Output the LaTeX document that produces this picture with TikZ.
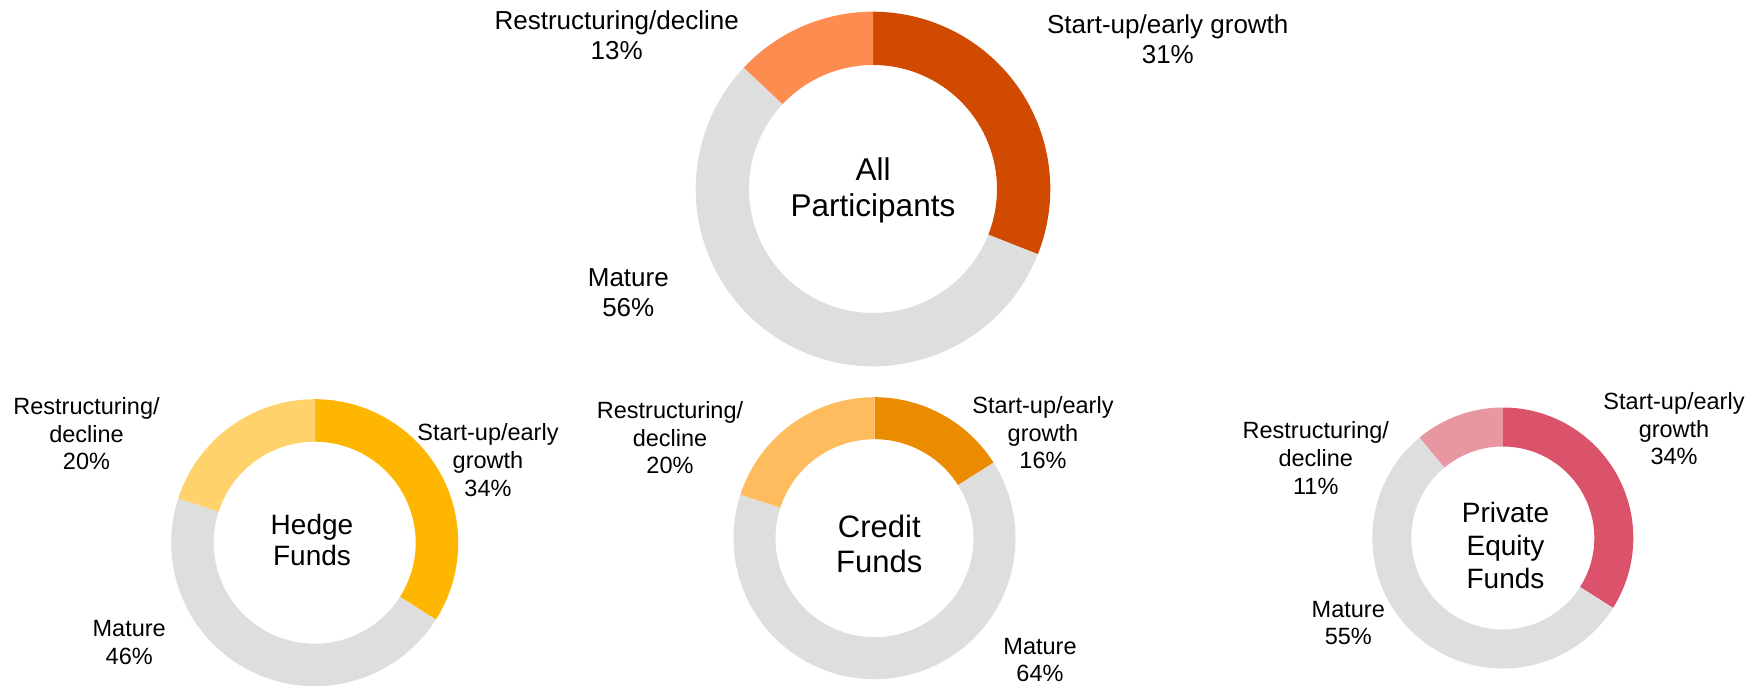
\documentclass[tikz,border=0pt]{standalone}
\usepackage{fontspec}
\setmainfont{Liberation Sans}
\usetikzlibrary{calc}
\definecolor{gr}{HTML}{DEDEDE}
\definecolor{aS}{HTML}{D04A02}
\definecolor{aR}{HTML}{FD8C50}
\definecolor{hS}{HTML}{FFB600}
\definecolor{hR}{HTML}{FFD26B}
\definecolor{cS}{HTML}{EB8C00}
\definecolor{cR}{HTML}{FFBC5E}
\definecolor{pS}{HTML}{DB536A}
\definecolor{pR}{HTML}{E8969F}
\newcommand{\mlines}[1]{\begin{tabular}[t]{@{}c@{}}#1\end{tabular}}
% center, rin, rout, a1, a2, color
\newcommand{\donutslice}[6]{%
  \fill[#6] ($(#1)+(#4:#3)$) arc[start angle=#4, end angle=#5, radius=#3]
    -- ($(#1)+(#5:#2)$) arc[start angle=#5, end angle=#4, radius=#2] -- cycle;}
% center, rin, rout, pStart, pMature, cS, cR
\newcommand{\donut}[7]{%
  \pgfmathsetmacro{\aone}{90-3.6*#4}%
  \pgfmathsetmacro{\atwo}{90-3.6*(#4+#5)}%
  \donutslice{#1}{#2}{#3}{90}{\aone}{#6}%
  \donutslice{#1}{#2}{#3}{\aone}{\atwo}{gr}%
  \donutslice{#1}{#2}{#3}{\atwo}{-270}{#7}}
\tikzset{
  labbig/.style={anchor=base, inner sep=0pt, font=\fontsize{26}{30}\selectfont},
  labsmall/.style={anchor=base, inner sep=0pt, font=\fontsize{23.5}{27.8}\selectfont},
}
\begin{document}
\begin{tikzpicture}[x=1pt,y=1pt]
\useasboundingbox (0,0) rectangle (1756,-687);
\coordinate (cA) at (873,-189);
\coordinate (cH) at (314.7,-542.7);
\coordinate (cC) at (874.5,-538.2);
\coordinate (cP) at (1502.8,-538);

\donut{cA}{124}{177.3}{31}{56}{aS}{aR}
\donut{cH}{101}{143.5}{34}{46}{hS}{hR}
\donut{cC}{99}{141}{16}{64}{cS}{cR}
\donut{cP}{91.5}{130.5}{34}{55}{pS}{pR}

% All participants
\node[anchor=base, inner sep=0pt, font=\fontsize{31.5}{35.7}\selectfont] (tA) at (873,-181) {\mlines{All\\Participants}};
\node[labbig] (aRl) at (616.7,-30) {\mlines{Restructuring/decline\\13\%}};
\node[labbig] (aSl) at (1167.8,-33.3) {\mlines{Start-up/early growth\\31\%}};
\node[labbig] (aMl) at (628.3,-286.7) {\mlines{Mature\\56\%}};

% Hedge funds
\node[anchor=base, inner sep=0pt, font=\fontsize{28}{31.7}\selectfont] (tH) at (312,-534) {\mlines{Hedge\\Funds}};
\node[labsmall] (hRl) at (86.5,-414.3) {\mlines{Restructuring/\\decline\\20\%}};
\node[labsmall] (hSl) at (488,-440.7) {\mlines{Start-up/early\\growth\\34\%}};
\node[labsmall] (hMl) at (129.2,-636.3) {\mlines{Mature\\46\%}};

% Credit funds
\node[anchor=base, inner sep=0pt, font=\fontsize{31}{35.3}\selectfont] (tC) at (879.3,-537.3) {\mlines{Credit\\Funds}};
\node[labsmall] (cRl) at (670,-418.3) {\mlines{Restructuring/\\decline\\20\%}};
\node[labsmall] (cSl) at (1043,-413.3) {\mlines{Start-up/early\\growth\\16\%}};
\node[labsmall] (cMl) at (1040,-654) {\mlines{Mature\\64\%}};

% Private equity funds
\node[anchor=base, inner sep=0pt, font=\fontsize{28}{33}\selectfont] (tP) at (1505.5,-522.7) {\mlines{Private\\Equity\\Funds}};
\node[labsmall] (pRl) at (1315.8,-438.7) {\mlines{Restructuring/\\decline\\11\%}};
\node[labsmall] (pSl) at (1674,-409.3) {\mlines{Start-up/early\\growth\\34\%}};
\node[labsmall] (pMl) at (1348.3,-617) {\mlines{Mature\\55\%}};
\end{tikzpicture}
\end{document}
